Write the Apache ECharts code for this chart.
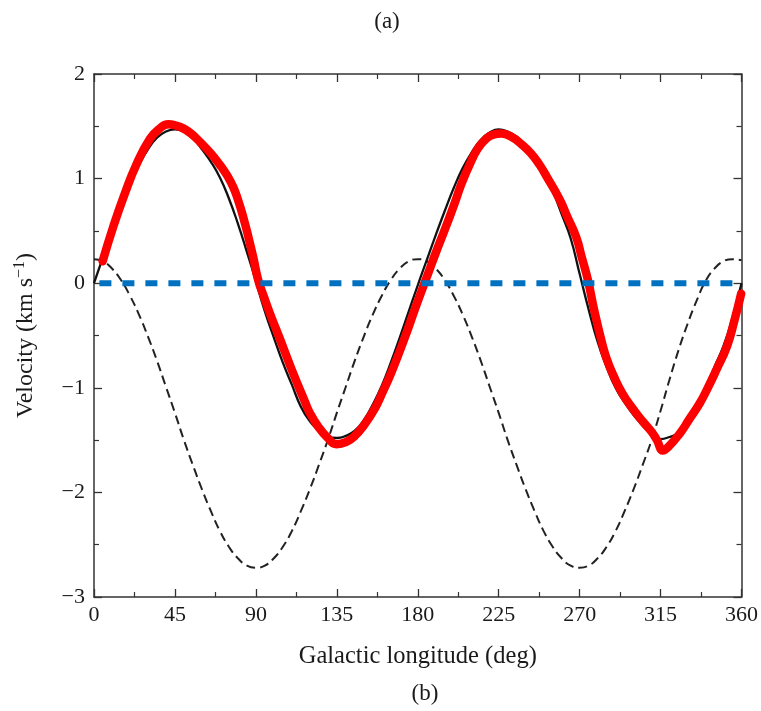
<!DOCTYPE html>
<html>
<head>
<meta charset="utf-8">
<script src="https://cdn.jsdelivr.net/npm/echarts@6/dist/echarts.min.js"></script>
<style>
html,body{margin:0;padding:0;background:#fff;}
#chart{width:761px;height:711px;}
</style>
</head>
<body>
<div id="chart"></div>
<script>
// Galactic longitude (deg) for the black curves
const modelLon = [0,5,10,15,20,25,30,35,40,45,50,55,60,65,70,75,80,85,90,95,100,105,110,115,120,125,130,135,140,145,150,155,160,165,170,175,180,185,190,195,200,205,210,215,220,225,230,235,240,245,250,255,260,265,270,275,280,285,290,295,300,305,310,315,320,325,330,335,340,345,350,355,360];
// Black solid curve (km/s)
const solidVel = [0,0.25,0.50,0.74,0.95,1.13,1.28,1.39,1.45,1.47,
  1.45,1.39,1.28,1.16,1.01,0.81,0.57,0.30,0.02,
  -0.27,-0.52,-0.76,-0.97,-1.18,-1.32,-1.41,-1.47,-1.48,
  -1.46,-1.41,-1.31,-1.16,-0.98,-0.76,-0.52,-0.27,-0.02,
  0.22,0.46,0.69,0.91,1.10,1.25,1.37,1.44,1.47,
  1.45,1.40,1.31,1.20,1.05,0.88,0.66,0.43,0.09,
  -0.25,-0.56,-0.80,-1.00,-1.14,-1.26,-1.36,-1.44,-1.49,
  -1.47,-1.43,-1.33,-1.19,-1.01,-0.80,-0.60,-0.33,0.00];
// Black dashed curve (km/s)
const dashVel = [0.23,0.21,0.14,0.03,-0.12,-0.30,-0.51,-0.74,-0.99,-1.24,
  -1.50,-1.74,-1.97,-2.18,-2.37,-2.52,-2.63,-2.70,-2.72,
  -2.70,-2.63,-2.52,-2.37,-2.18,-1.97,-1.74,-1.50,-1.24,
  -0.99,-0.74,-0.51,-0.30,-0.12,0.03,0.14,0.21,0.23,
  0.21,0.14,0.03,-0.12,-0.30,-0.51,-0.74,-0.99,-1.24,
  -1.50,-1.74,-1.97,-2.18,-2.37,-2.52,-2.63,-2.70,-2.72,
  -2.70,-2.63,-2.52,-2.37,-2.18,-1.97,-1.74,-1.50,-1.22,
  -0.92,-0.64,-0.39,-0.17,0.02,0.14,0.21,0.23,0.22];
// Red observed curve
const redLon = [4.8,10.7,17.2,23.7,31.1,36,41.3,45,49.6,54,58.9,65,70.9,74,77.4,80,83,86,88.5,91.3,94.5,97.8,103.3,110,117.2,120,124.6,130,134.8,140,145,150,156.1,160,165.4,172.8,179,185.7,190,195,200,204.3,209,213.5,218,222,226.5,232,237.5,243,247.8,252,258.9,263,268.1,271,274.6,278,282,285,289,294,300,305,310,313,316.3,319,325.6,331,336.7,341,346,352,356,359.8];
const redVel = [0.21,0.54,0.86,1.14,1.38,1.47,1.52,1.51,1.48,1.43,1.35,1.24,1.11,1.03,0.92,0.80,0.63,0.43,0.25,0.03,-0.13,-0.29,-0.53,-0.83,-1.13,-1.24,-1.37,-1.48,-1.54,-1.52,-1.46,-1.36,-1.20,-1.06,-0.85,-0.52,-0.22,0.09,0.29,0.51,0.74,0.95,1.14,1.29,1.38,1.42,1.43,1.40,1.33,1.24,1.13,1.01,0.80,0.64,0.44,0.26,0.03,-0.25,-0.54,-0.72,-0.89,-1.06,-1.21,-1.32,-1.42,-1.50,-1.60,-1.57,-1.44,-1.30,-1.15,-1.01,-0.83,-0.60,-0.36,-0.10];
// Blue zero line
const zeroLon = [3,360];
const zeroVel = [0,0];

const xTitle = 'Galactic longitude (deg)';
const topLabel = '(a)';
const bottomLabel = '(b)';

function pairs(xs, ys){ return xs.map((x,i)=>[x, ys[i]]); }

const FONT = 'Liberation Serif';
const axisCol = '#333';
const txtCol = '#1a1a1a';
const chart = echarts.init(document.getElementById('chart'), null, {renderer:'canvas'});

const baseX = {
  type:'value', min:0, max:360, interval:45,
  axisLine:{show:true, onZero:false, lineStyle:{color:axisCol, width:1.5}},
  axisTick:{show:true, inside:true, length:8, lineStyle:{color:axisCol, width:1.3}},
  minorTick:{show:true, splitNumber:2, length:5, lineStyle:{color:axisCol, width:1.2}},
  splitLine:{show:false}, minorSplitLine:{show:false}
};
const baseY = {
  type:'value', min:-3, max:2, interval:1,
  axisLine:{show:true, onZero:false, lineStyle:{color:axisCol, width:1.5}},
  axisTick:{show:true, inside:true, length:8, lineStyle:{color:axisCol, width:1.3}},
  minorTick:{show:true, splitNumber:2, length:5, lineStyle:{color:axisCol, width:1.2}},
  splitLine:{show:false}, minorSplitLine:{show:false}
};

chart.setOption({
  animation:false,
  backgroundColor:'#fff',
  title:[
    {text:topLabel, left:382, top:5, textAlign:'center', textStyle:{fontFamily:FONT, fontSize:23, fontWeight:'normal', color:txtCol}},
    {text:bottomLabel, left:420, top:677, textAlign:'center', textStyle:{fontFamily:FONT, fontSize:23, fontWeight:'normal', color:txtCol}}
  ],
  grid:{left:94, top:74, right:19, bottom:114, containLabel:false},
  xAxis:[
    Object.assign({}, baseX, {
      position:'bottom',
      name:xTitle, nameLocation:'middle', nameGap:47,
      nameTextStyle:{fontFamily:FONT, fontSize:24.5, color:txtCol},
      axisLabel:{show:true, margin:7, fontFamily:FONT, fontSize:22, color:txtCol}
    }),
    Object.assign({}, baseX, {position:'top', axisLabel:{show:false}})
  ],
  yAxis:[
    Object.assign({}, baseY, {
      position:'left',
      name:'{a|Velocity (km s}{s|−1}{a|)}', nameLocation:'middle', nameGap:56, nameRotate:90,
      nameTextStyle:{fontFamily:FONT, fontSize:24, color:txtCol,
        rich:{a:{fontFamily:FONT, fontSize:24, color:txtCol, lineHeight:26, verticalAlign:'bottom'},
              s:{fontFamily:FONT, fontSize:16, color:txtCol, lineHeight:26, verticalAlign:'top'}}},
      axisLabel:{show:true, margin:9, fontFamily:FONT, fontSize:22, color:txtCol,
        formatter:v=> (v<0 ? '−'+Math.abs(v) : String(v))}
    }),
    Object.assign({}, baseY, {position:'right', axisLabel:{show:false}})
  ],
  series:[
    {type:'line', name:'dashed', data:pairs(modelLon, dashVel), xAxisIndex:0, yAxisIndex:0,
     showSymbol:false, smooth:true, lineStyle:{color:'#222', width:2, type:[9,5]}, z:2},
    {type:'line', name:'solid', data:pairs(modelLon, solidVel), xAxisIndex:0, yAxisIndex:0,
     showSymbol:false, smooth:true, lineStyle:{color:'#111', width:2.3}, z:3},
    {type:'line', name:'red', data:pairs(redLon, redVel), xAxisIndex:0, yAxisIndex:0,
     showSymbol:false, smooth:0.5, lineStyle:{color:'#ff0000', width:8.5, cap:'round', join:'round'}, z:4},
    {type:'line', name:'zero', data:pairs(zeroLon, zeroVel), xAxisIndex:0, yAxisIndex:0,
     showSymbol:false, lineStyle:{color:'#0070c0', width:6, type:[12,11]}, z:5}
  ]
});
</script>
</body>
</html>
